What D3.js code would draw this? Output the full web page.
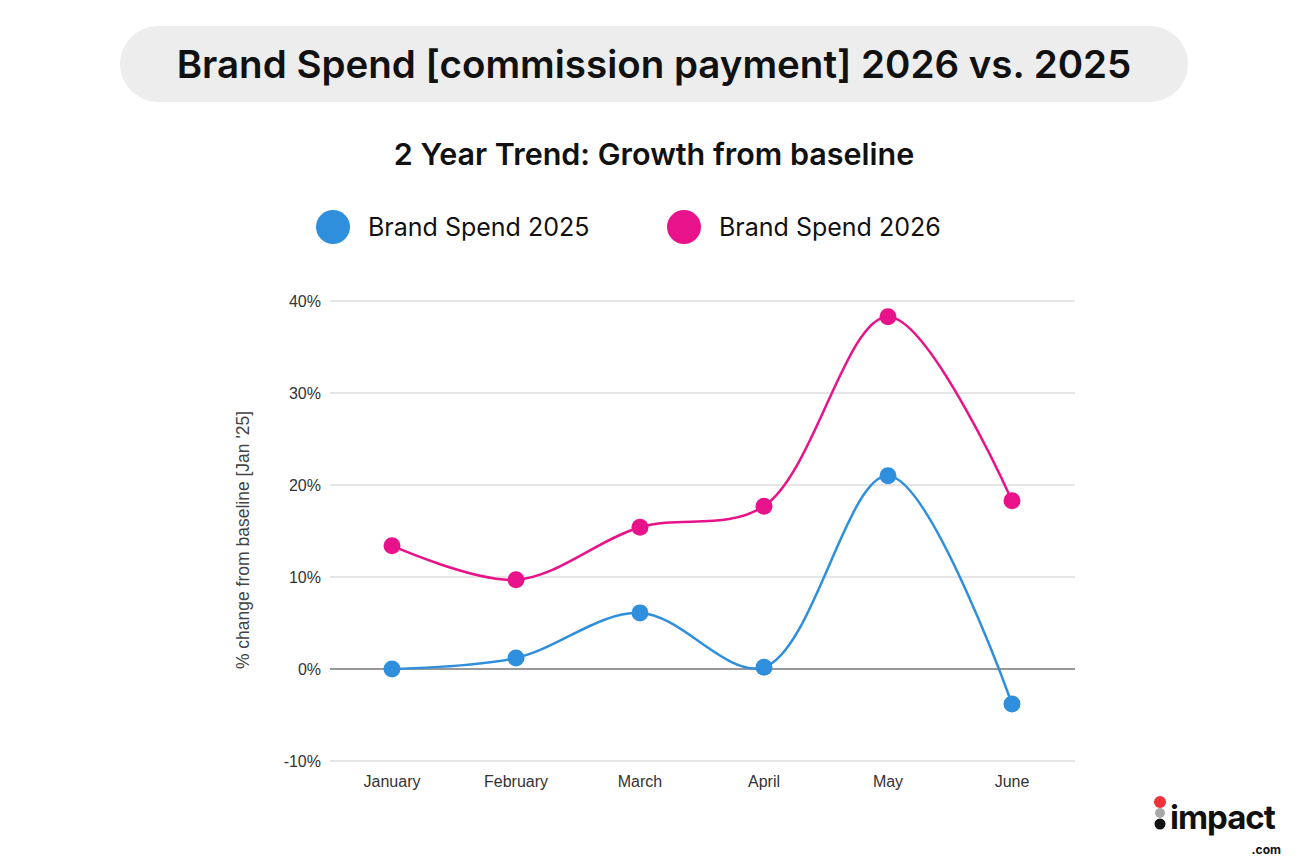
<!DOCTYPE html>
<html><head><meta charset="utf-8">
<script src="https://cdn.jsdelivr.net/npm/d3@7"></script>
<style>body{margin:0;background:#fff;}</style>
</head><body>
<script>
var months = ['January', 'February', 'March', 'April', 'May', 'June'],
	spend2025 = [0, 1.2, 6.1, 0.2, 21.0, -3.8],
	spend2026 = [13.4, 9.7, 15.4, 17.7, 38.3, 18.3],
	yTicks = [-10, 0, 10, 20, 30, 40],
	seriesNames = ['Brand Spend 2025', 'Brand Spend 2026'],
	seriesColors = ['#2f8fdd', '#e8128a'];

var width = 1308, height = 868;
var svg = d3.select('body').append('svg').attr('width', width).attr('height', height)
	.style('font-family', 'Inter, sans-serif');

// title pill
svg.append('rect').attr('x', 120).attr('y', 26).attr('width', 1068).attr('height', 76)
	.attr('rx', 38).attr('fill', '#ededed');
svg.append('text').attr('x', 654).attr('y', 78).attr('text-anchor', 'middle')
	.attr('font-size', 38.5).attr('font-weight', 600).attr('fill', '#111')
	.text('Brand Spend [commission payment] 2026 vs. 2025');
svg.append('text').attr('x', 654).attr('y', 165).attr('text-anchor', 'middle')
	.attr('font-size', 30.5).attr('font-weight', 600).attr('fill', '#111')
	.text('2 Year Trend: Growth from baseline');

// legend
var legendX = [333, 684];
seriesNames.forEach(function(name, i) {
	svg.append('circle').attr('cx', legendX[i]).attr('cy', 227).attr('r', 17).attr('fill', seriesColors[i]);
	svg.append('text').attr('x', legendX[i] + 35).attr('y', 236).attr('font-size', 25)
		.attr('fill', '#111').text(name);
});

var x = d3.scalePoint().domain(months).range([330, 1074]).padding(0.5);
var y = d3.scaleLinear().domain([-10, 40]).range([761, 301]);

var grid = svg.append('g');
yTicks.forEach(function(t) {
	grid.append('line').attr('x1', 330).attr('x2', 1075).attr('y1', y(t)).attr('y2', y(t))
		.attr('stroke', t === 0 ? '#333' : '#cccccc').attr('stroke-width', t === 0 ? 1.2 : 1);
	grid.append('text').attr('x', 321).attr('y', y(t) + 6).attr('text-anchor', 'end')
		.attr('font-family', 'Liberation Sans, Arial, sans-serif').attr('font-size', 16)
		.attr('fill', '#333').text(t + '%');
});
months.forEach(function(m) {
	svg.append('text').attr('x', x(m)).attr('y', 787).attr('text-anchor', 'middle')
		.attr('font-family', 'Liberation Sans, Arial, sans-serif').attr('font-size', 16)
		.attr('fill', '#333').text(m);
});
svg.append('text').attr('transform', 'translate(249,540) rotate(-90)').attr('text-anchor', 'middle')
	.attr('font-family', 'Liberation Sans, Arial, sans-serif').attr('font-size', 17.5)
	.attr('fill', '#444').text("% change from baseline [Jan '25]");

var line = d3.line().x(function(d, i) { return x(months[i]); }).y(function(d) { return y(d); })
	.curve(d3.curveCatmullRom.alpha(0.5));

[spend2025, spend2026].forEach(function(vals, s) {
	svg.append('path').datum(vals).attr('d', line).attr('fill', 'none')
		.attr('stroke', seriesColors[s]).attr('stroke-width', 2.5);
	svg.selectAll('.pt' + s).data(vals).enter().append('circle')
		.attr('cx', function(d, i) { return x(months[i]); })
		.attr('cy', function(d) { return y(d); })
		.attr('r', 8.5).attr('fill', seriesColors[s]);
});

// logo
var logo = svg.append('g');
logo.append('circle').attr('cx', 1160).attr('cy', 802).attr('r', 6).attr('fill', '#f0323c');
logo.append('circle').attr('cx', 1160).attr('cy', 813).attr('r', 5).attr('fill', '#aaa');
logo.append('circle').attr('cx', 1160).attr('cy', 824).attr('r', 5.5).attr('fill', '#111');
logo.append('text').attr('x', 1170).attr('y', 829).attr('font-size', 33).attr('font-weight', 700)
	.attr('fill', '#111').attr('letter-spacing', -1).text('impact');
logo.append('text').attr('x', 1281).attr('y', 854).attr('text-anchor', 'end').attr('font-size', 12)
	.attr('font-weight', 700).attr('fill', '#111').text('.com');
</script>
</body></html>
